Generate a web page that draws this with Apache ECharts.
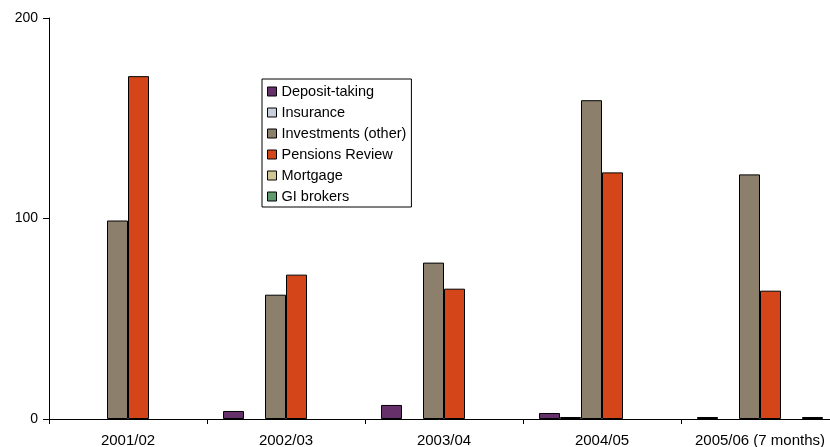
<!DOCTYPE html>
<html>
<head>
<meta charset="utf-8">
<script src="https://cdn.jsdelivr.net/npm/echarts@6/dist/echarts.min.js"></script>
<style>
  html, body { margin: 0; padding: 0; background: #fff; }
  #chart { width: 830px; height: 447px; }
</style>
</head>
<body>
<div id="chart"></div>
<script>
// Complaints by sector per financial year
const categories = ['2001/02', '2002/03', '2003/04', '2004/05', '2005/06 (7 months)'];
const depositTaking = [0, 4, 7, 3, 1];
const insurance     = [0, 0, 0, 1, 0];
const investments   = [99, 62, 78, 159, 122];
const pensions      = [171, 72, 65, 123, 64];
const mortgage      = [0, 0, 0, 0, 0];
const giBrokers     = [0, 0, 0, 0, 1];
const yTicks = [0, 100, 200];

const seriesDefs = [
  { name: 'Deposit-taking', data: depositTaking, color: '#66306A' },
  { name: 'Insurance', data: insurance, color: '#C9CEDB' },
  { name: 'Investments (other)', data: investments, color: '#8C7F6C' },
  { name: 'Pensions Review', data: pensions, color: '#D44519' },
  { name: 'Mortgage', data: mortgage, color: '#CEC793' },
  { name: 'GI brokers', data: giBrokers, color: '#5E9A6E' }
];

const font = '"Liberation Sans", Arial, sans-serif';
const chart = echarts.init(document.getElementById('chart'), null, { renderer: 'canvas' });

chart.setOption({
  animation: false,
  backgroundColor: '#ffffff',
  textStyle: { fontFamily: font },
  // the last category runs a little past the right edge of the canvas
  grid: { left: 49, top: 18, width: 790, bottom: 28, containLabel: false, outerBoundsMode: 'none' },
  legend: {
    orient: 'vertical',
    left: 262,
    top: 79,
    padding: [5, 5, 3, 5],
    itemGap: 6,
    itemWidth: 9,
    itemHeight: 9,
    borderColor: '#000',
    borderWidth: 1,
    borderRadius: 0,
    icon: 'rect',
    textStyle: { fontFamily: font, fontSize: 14.5, color: '#000', lineHeight: 14 },
    data: seriesDefs.map(s => ({ name: s.name, itemStyle: { borderColor: '#000', borderWidth: 1 } }))
  },
  xAxis: {
    type: 'category',
    data: categories,
    axisLine: { lineStyle: { color: '#000', width: 1 } },
    axisTick: { show: true, length: 5, inside: false, lineStyle: { color: '#000' } },
    axisLabel: { color: '#000', fontSize: 15, fontFamily: font, margin: 14, interval: 0, hideOverlap: false }
  },
  yAxis: {
    type: 'value',
    min: 0,
    max: 200,
    interval: 100,
    axisLine: { show: true, lineStyle: { color: '#000', width: 1 } },
    axisTick: { show: true, length: 6, lineStyle: { color: '#000' } },
    axisLabel: {
      color: '#000', fontSize: 14, fontFamily: font, margin: 11,
      formatter: v => (yTicks.includes(v) ? String(v) : '')
    },
    splitLine: { show: false }
  },
  series: seriesDefs.map(s => ({
    name: s.name,
    type: 'bar',
    // empty cells are left out rather than drawn as a flat outline
    data: s.data.map(v => (v === 0 ? '-' : v)),
    barWidth: 21,
    barGap: '0%',
    itemStyle: { color: s.color, borderColor: '#000', borderWidth: 1 }
  }))
});
</script>
</body>
</html>
